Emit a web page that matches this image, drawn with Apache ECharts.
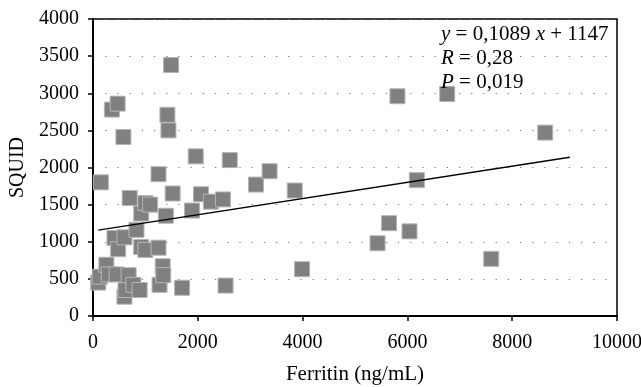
<!DOCTYPE html>
<html>
<head>
<meta charset="utf-8">
<script src="https://cdn.jsdelivr.net/npm/echarts@6/dist/echarts.min.js"></script>
<style>
  html, body { margin: 0; padding: 0; background: #fff; }
  #chart { width: 641px; height: 387px; }
</style>
</head>
<body>
<div id="chart"></div>
<script>
// ferritin (x) and SQUID (y) values
const ferritin = [100, 130, 255, 300, 410, 450, 480, 600, 600, 620, 680, 770, 830, 890, 920, 920,
  1000, 1000, 1090, 700, 150, 360, 470, 580, 1250, 1250, 1270, 1330, 1340, 1390, 1420, 1440,
  1490, 1520, 1700, 1890, 1960, 2060, 2250, 2480, 2530, 2610, 3110, 3370, 3850, 3990, 5430,
  5650, 5810, 6040, 6180, 6760, 7600, 8630];
const squid = [450, 530, 690, 560, 1050, 560, 900, 1060, 260, 350, 550, 420, 1160, 350, 930, 1380,
  890, 1520, 1500, 1590, 1800, 2780, 2860, 2410, 1910, 920, 420, 670, 550, 1350, 2710, 2500,
  3380, 1650, 380, 1420, 2150, 1640, 1540, 1570, 410, 2100, 1770, 1950, 1690, 630, 980,
  1250, 2960, 1140, 1830, 2990, 770, 2470];

// regression line from the stated coefficients
const slope = 0.1089;
const intercept = 1147;
const lineX = [100, 9100];

const yTicks = [0, 500, 1000, 1500, 2000, 2500, 3000, 3500, 4000];
const xTicks = [0, 2000, 4000, 6000, 8000, 10000];

const font = 'Liberation Serif';

var myChart = echarts.init(document.getElementById('chart'));

var option = {
  animation: false,
  grid: {
    left: 93, right: 24, top: 19, bottom: 71,
    outerBoundsMode: 'none',
    show: true, borderColor: '#000', borderWidth: 1.5
  },
  title: {
    left: 436, top: 17,
    text: '{i|y} = 0,1089 {i|x} + 1147\n{i|R} = 0,28\n{i|P} = 0,019',
    textStyle: {
      fontFamily: font, fontSize: 21, fontWeight: 'normal', color: '#000', lineHeight: 24,
      rich: { i: { fontStyle: 'italic', fontFamily: font, fontSize: 21, lineHeight: 24 } }
    }
  },
  xAxis: {
    type: 'value', min: xTicks[0], max: xTicks[xTicks.length - 1], interval: 2000,
    name: 'Ferritin (ng/mL)', nameLocation: 'middle', nameGap: 48,
    nameTextStyle: { fontFamily: font, fontSize: 21, color: '#000' },
    axisLine: { lineStyle: { color: '#000', width: 2 } },
    axisTick: { show: true, length: 5, lineStyle: { color: '#000', width: 1.5 } },
    axisLabel: { fontFamily: font, fontSize: 20, color: '#000', margin: 17, formatter: v => String(v) },
    splitLine: { show: false }
  },
  yAxis: {
    type: 'value', min: yTicks[0], max: yTicks[yTicks.length - 1], interval: 500,
    name: 'SQUID', nameLocation: 'middle', nameGap: 62,
    nameTextStyle: { fontFamily: font, fontSize: 20, color: '#000' },
    axisLine: { show: true, lineStyle: { color: '#000', width: 2 } },
    axisTick: { show: true, length: 5, lineStyle: { color: '#000', width: 1.5 } },
    axisLabel: { fontFamily: font, fontSize: 20, color: '#000', margin: 14, formatter: v => String(v) },
    splitLine: { show: true, lineStyle: { color: '#777', width: 1.2, type: [1.2, 11] } }
  },
  series: [
    {
      type: 'scatter',
      symbol: 'rect',
      symbolSize: 15,
      data: ferritin.map((x, i) => [x, squid[i]]),
      itemStyle: { color: '#808080', borderColor: '#b5b5b5', borderWidth: 1, opacity: 1 },
      z: 3
    },
    {
      type: 'line',
      data: lineX.map(x => [x, slope * x + intercept]),
      symbol: 'none',
      lineStyle: { color: '#000', width: 1.3 },
      z: 4
    }
  ]
};
myChart.setOption(option);
</script>
</body>
</html>
